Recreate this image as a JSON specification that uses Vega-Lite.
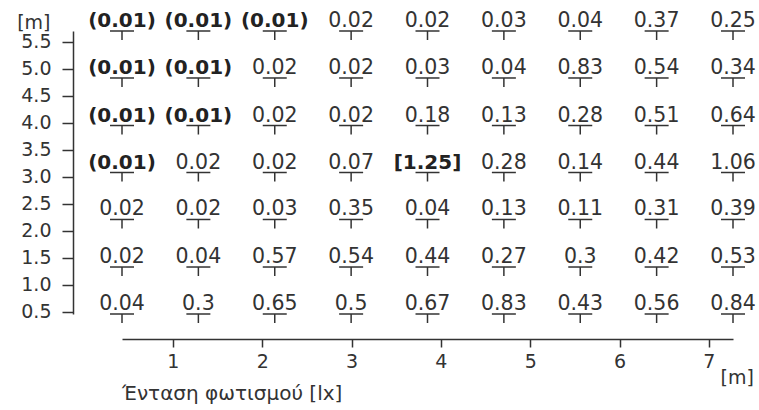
{
  "$schema": "https://vega.github.io/schema/vega-lite/v6.json",
  "width": 611,
  "height": 283,
  "autosize": {"type": "none"},
  "padding": {"left": 122, "top": 31, "right": 26, "bottom": 96},
  "background": "white",
  "config": {"view": {"stroke": null}, "font": "DejaVu Sans"},
  "title": {"text": "Ένταση φωτισμού [lx]", "orient": "bottom", "anchor": "start", "frame": "group", "fontSize": 20, "fontWeight": "normal", "color": "#333", "offset": -3},
  "data": {"values": [
    {"x": 0.43, "y": 5.70, "label": "(0.01)", "kind": "low"},
    {"x": 1.285, "y": 5.70, "label": "(0.01)", "kind": "low"},
    {"x": 2.14, "y": 5.70, "label": "(0.01)", "kind": "low"},
    {"x": 2.995, "y": 5.70, "label": "0.02", "kind": "regular"},
    {"x": 3.85, "y": 5.70, "label": "0.02", "kind": "regular"},
    {"x": 4.705, "y": 5.70, "label": "0.03", "kind": "regular"},
    {"x": 5.56, "y": 5.70, "label": "0.04", "kind": "regular"},
    {"x": 6.415, "y": 5.70, "label": "0.37", "kind": "regular"},
    {"x": 7.27, "y": 5.70, "label": "0.25", "kind": "regular"},

    {"x": 0.43, "y": 4.83, "label": "(0.01)", "kind": "low"},
    {"x": 1.285, "y": 4.83, "label": "(0.01)", "kind": "low"},
    {"x": 2.14, "y": 4.83, "label": "0.02", "kind": "regular"},
    {"x": 2.995, "y": 4.83, "label": "0.02", "kind": "regular"},
    {"x": 3.85, "y": 4.83, "label": "0.03", "kind": "regular"},
    {"x": 4.705, "y": 4.83, "label": "0.04", "kind": "regular"},
    {"x": 5.56, "y": 4.83, "label": "0.83", "kind": "regular"},
    {"x": 6.415, "y": 4.83, "label": "0.54", "kind": "regular"},
    {"x": 7.27, "y": 4.83, "label": "0.34", "kind": "regular"},

    {"x": 0.43, "y": 3.95, "label": "(0.01)", "kind": "low"},
    {"x": 1.285, "y": 3.95, "label": "(0.01)", "kind": "low"},
    {"x": 2.14, "y": 3.95, "label": "0.02", "kind": "regular"},
    {"x": 2.995, "y": 3.95, "label": "0.02", "kind": "regular"},
    {"x": 3.85, "y": 3.95, "label": "0.18", "kind": "regular"},
    {"x": 4.705, "y": 3.95, "label": "0.13", "kind": "regular"},
    {"x": 5.56, "y": 3.95, "label": "0.28", "kind": "regular"},
    {"x": 6.415, "y": 3.95, "label": "0.51", "kind": "regular"},
    {"x": 7.27, "y": 3.95, "label": "0.64", "kind": "regular"},

    {"x": 0.43, "y": 3.08, "label": "(0.01)", "kind": "low"},
    {"x": 1.285, "y": 3.08, "label": "0.02", "kind": "regular"},
    {"x": 2.14, "y": 3.08, "label": "0.02", "kind": "regular"},
    {"x": 2.995, "y": 3.08, "label": "0.07", "kind": "regular"},
    {"x": 3.85, "y": 3.08, "label": "[1.25]", "kind": "max"},
    {"x": 4.705, "y": 3.08, "label": "0.28", "kind": "regular"},
    {"x": 5.56, "y": 3.08, "label": "0.14", "kind": "regular"},
    {"x": 6.415, "y": 3.08, "label": "0.44", "kind": "regular"},
    {"x": 7.27, "y": 3.08, "label": "1.06", "kind": "regular"},

    {"x": 0.43, "y": 2.21, "label": "0.02", "kind": "regular"},
    {"x": 1.285, "y": 2.21, "label": "0.02", "kind": "regular"},
    {"x": 2.14, "y": 2.21, "label": "0.03", "kind": "regular"},
    {"x": 2.995, "y": 2.21, "label": "0.35", "kind": "regular"},
    {"x": 3.85, "y": 2.21, "label": "0.04", "kind": "regular"},
    {"x": 4.705, "y": 2.21, "label": "0.13", "kind": "regular"},
    {"x": 5.56, "y": 2.21, "label": "0.11", "kind": "regular"},
    {"x": 6.415, "y": 2.21, "label": "0.31", "kind": "regular"},
    {"x": 7.27, "y": 2.21, "label": "0.39", "kind": "regular"},

    {"x": 0.43, "y": 1.33, "label": "0.02", "kind": "regular"},
    {"x": 1.285, "y": 1.33, "label": "0.04", "kind": "regular"},
    {"x": 2.14, "y": 1.33, "label": "0.57", "kind": "regular"},
    {"x": 2.995, "y": 1.33, "label": "0.54", "kind": "regular"},
    {"x": 3.85, "y": 1.33, "label": "0.44", "kind": "regular"},
    {"x": 4.705, "y": 1.33, "label": "0.27", "kind": "regular"},
    {"x": 5.56, "y": 1.33, "label": "0.3", "kind": "regular"},
    {"x": 6.415, "y": 1.33, "label": "0.42", "kind": "regular"},
    {"x": 7.27, "y": 1.33, "label": "0.53", "kind": "regular"},

    {"x": 0.43, "y": 0.46, "label": "0.04", "kind": "regular"},
    {"x": 1.285, "y": 0.46, "label": "0.3", "kind": "regular"},
    {"x": 2.14, "y": 0.46, "label": "0.65", "kind": "regular"},
    {"x": 2.995, "y": 0.46, "label": "0.5", "kind": "regular"},
    {"x": 3.85, "y": 0.46, "label": "0.67", "kind": "regular"},
    {"x": 4.705, "y": 0.46, "label": "0.83", "kind": "regular"},
    {"x": 5.56, "y": 0.46, "label": "0.43", "kind": "regular"},
    {"x": 6.415, "y": 0.46, "label": "0.56", "kind": "regular"},
    {"x": 7.27, "y": 0.46, "label": "0.84", "kind": "regular"}
  ]},
  "encoding": {
    "x": {
      "field": "x", "type": "quantitative",
      "scale": {"domain": [0.43, 7.27], "nice": false, "zero": false},
      "axis": {
        "values": [1, 2, 3, 4, 5, 6, 7], "format": "d", "grid": false, "offset": 25,
        "tickSize": 8, "tickWidth": 1.5, "tickColor": "#333", "domainColor": "#333", "domainWidth": 1.5,
        "labelPadding": 5, "labelFontSize": 19, "labelColor": "#333", "labelOverlap": false, "labelFlush": false,
        "title": "[m]", "titleFontSize": 19, "titleFontWeight": "normal", "titleColor": "#333",
        "titleX": 598, "titleY": 29, "titleAlign": "left", "titleBaseline": "top", "titleAnchor": null
      }
    },
    "y": {
      "field": "y", "type": "quantitative",
      "scale": {"domain": [0.46, 5.70], "nice": false, "zero": false},
      "axis": {
        "values": [0.5, 1, 1.5, 2, 2.5, 3, 3.5, 4, 4.5, 5, 5.5], "format": ".1f", "grid": false, "offset": 49,
        "tickSize": 11, "tickWidth": 1.5, "tickColor": "#333", "domainColor": "#333", "domainWidth": 1.5,
        "labelPadding": 11, "labelFontSize": 19, "labelColor": "#333", "labelOverlap": false, "labelFlush": false,
        "title": "[m]", "titleAngle": 0, "titleFontSize": 19, "titleFontWeight": "normal", "titleColor": "#333",
        "titleX": -23, "titleY": -18, "titleAlign": "right", "titleBaseline": "top"
      }
    }
  },
  "layer": [
    {"mark": {"type": "tick", "orient": "horizontal", "size": 24, "thickness": 1.5, "color": "#333", "opacity": 1}},
    {"mark": {"type": "tick", "orient": "vertical", "size": 9, "thickness": 1.5, "yOffset": 4.5, "color": "#333", "opacity": 1}},
    {
      "transform": [{"filter": "datum.kind == 'regular'"}],
      "mark": {"type": "text", "baseline": "alphabetic", "dy": -4, "fontSize": 20.5, "color": "#333"},
      "encoding": {"text": {"field": "label"}}
    },
    {
      "transform": [{"filter": "datum.kind != 'regular'"}],
      "mark": {"type": "text", "baseline": "alphabetic", "dy": -4, "fontSize": 20, "fontWeight": "bold", "color": "#222"},
      "encoding": {"text": {"field": "label"}}
    }
  ]
}
